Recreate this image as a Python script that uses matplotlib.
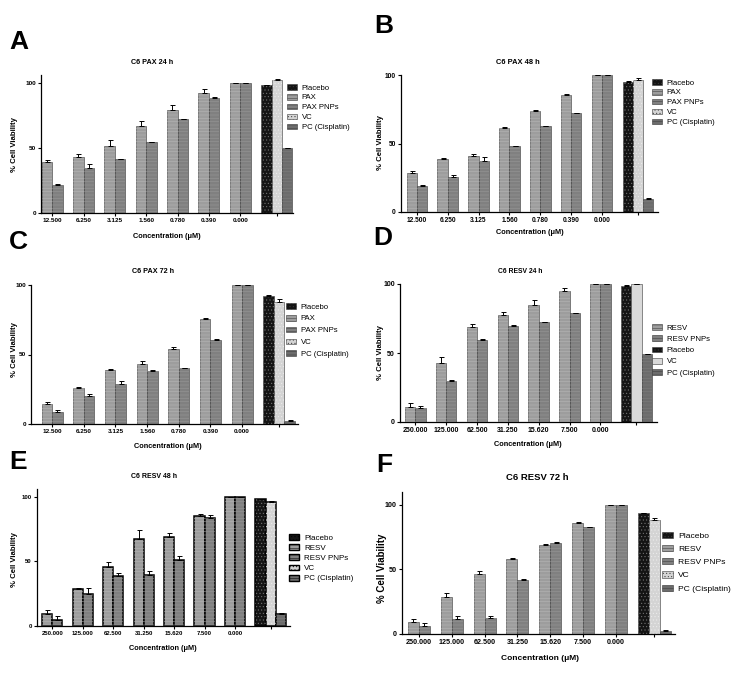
import matplotlib
matplotlib.use("Agg")
import matplotlib.pyplot as plt
from matplotlib.patches import Patch
import numpy as np

W, H = 731, 674

# ---------------- data ----------------
pax_ticks = ['12.500', '6.250', '3.125', '1.560', '0.780', '0.390', '0.000', '']
resv_ticks = ['250.000', '125.000', '62.500', '31.250', '15.620', '7.500', '0.000', '']

# Panel A: C6 PAX 24 h
a_free = [39.0, 43.0, 51.3, 67.2, 79.5, 92.3, 100]
a_free_err = [1.5, 2.4, 5.1, 3.3, 3.8, 3.1, 0]
a_pnp = [21.3, 34.6, 41.5, 54.6, 72.1, 88.8, 100]
a_pnp_err = [1.0, 3.1, 0.4, 0.4, 0.3, 0.4, 0]
a_ctrl = [98.3, 102.8, 50.0]          # Placebo, VC, PC
a_ctrl_err = [0.5, 0.4, 0.0]

# Panel B: C6 PAX 48 h
b_free = [28.5, 39.0, 41.2, 61.5, 74.0, 85.4, 100]
b_free_err = [1.5, 0.5, 0.8, 0.7, 0.5, 0.4, 0]
b_pnp = [18.8, 25.4, 37.3, 48.0, 62.7, 72.0, 100]
b_pnp_err = [1.2, 1.9, 2.7, 0.5, 0.4, 0.4, 0]
b_ctrl = [95.1, 96.6, 9.8]
b_ctrl_err = [0.3, 0.9, 0.3]

# Panel C: C6 PAX 72 h
c_free = [14.4, 26.1, 38.8, 43.2, 54.0, 75.5, 100]
c_free_err = [1.2, 0.5, 0.8, 1.9, 1.4, 0.8, 0]
c_pnp = [8.4, 20.1, 29.0, 38.4, 40.3, 60.4, 100]
c_pnp_err = [1.6, 1.5, 2.2, 0.7, 0.3, 0.6, 0]
c_ctrl = [92.3, 87.5, 2.4]
c_ctrl_err = [0.3, 2.2, 0.3]

# Panel D: C6 RESV 24 h
d_free = [11.2, 42.5, 68.7, 77.7, 85.0, 94.7, 100]
d_free_err = [2.6, 4.3, 2.2, 2.2, 3.1, 2.1, 0]
d_pnp = [10.4, 29.6, 59.5, 69.9, 72.3, 78.9, 100]
d_pnp_err = [1.0, 0.7, 0.5, 0.7, 0.5, 0.3, 0]
d_ctrl = [98.8, 100, 49.0]
d_ctrl_err = [0.3, 0.0, 0.3]

# Panel E: C6 RESV 48 h
e_free = [9.0, 28.4, 45.9, 67.8, 69.1, 85.0, 100]
e_free_err = [3.1, 0.7, 3.6, 6.4, 3.3, 2.1, 0]
e_pnp = [4.9, 24.5, 38.7, 39.9, 51.0, 83.8, 100]
e_pnp_err = [2.8, 4.6, 2.0, 2.4, 3.6, 2.0, 0]
e_ctrl = [98.5, 96.4, 9.5]
e_ctrl_err = [0.3, 0.8, 0.3]

# Panel F: C6 RESV 72 h
f_free = [9.5, 28.8, 46.3, 58.1, 68.9, 85.9, 100]
f_free_err = [2.3, 2.6, 2.8, 1.0, 0.8, 0.7, 0]
f_pnp = [6.4, 11.8, 12.6, 41.6, 70.7, 82.8, 100]
f_pnp_err = [1.8, 2.1, 1.5, 0.8, 0.8, 0.3, 0]
f_ctrl = [93.6, 87.9, 2.3]
f_ctrl_err = [0.0, 2.1, 0.8]

# ---------------- styles ----------------
NARROW = ['Liberation Sans Narrow', 'Liberation Sans', 'DejaVu Sans']
REG = ['Liberation Sans', 'DejaVu Sans']

STY = {
    'free':    dict(fc='#9d9d9d', hc='#b8b8b8', hatch='-----'),
    'pnp':     dict(fc='#808080', hc='#9a9a9a', hatch='-----'),
    'placebo': dict(fc='#141414', hc='#7a7a7a', hatch='.....'),
    'vc':      dict(fc='#d4d4d4', hc='#eeeeee', hatch='.....'),
    'vc_plain': dict(fc='#d9d9d9', hc=None, hatch=None),
    'pc':      dict(fc='#6c6c6c', hc='#808080', hatch='-----'),
}
plt.rcParams['hatch.linewidth'] = 0.35

fig = plt.figure(figsize=(W / 100, H / 100), dpi=100)


def rect(l, r, t, b):
    return [l / W, 1 - b / H, (r - l) / W, (b - t) / H]


def draw_bar(ax, x, h, key, edge='#3a3a3a', lw=0.4):
    s = STY[key]
    ax.bar(x, h, width=1.0, align='edge', color=s['fc'], edgecolor=edge, linewidth=lw, zorder=2)
    if s['hatch']:
        ax.bar(x, h, width=1.0, align='edge', color='none', edgecolor=s['hc'],
               hatch=s['hatch'], linewidth=0, zorder=2.1)


def patch(key, edge='#3a3a3a', lw=0.4):
    s = STY[key]
    return Patch(facecolor=s['fc'], edgecolor=edge, linewidth=lw, hatch=s['hatch'])


def panel(pos, xlim, ylim, free, free_err, pnp, pnp_err, ctrl, ctrl_err, ticks,
          ticksize, vc_key='vc', edge='#3a3a3a', lw=0.4):
    ax = fig.add_axes(rect(*pos))
    n = len(free)
    xs_free = np.arange(n) * 3.0
    xs_pnp = xs_free + 1
    xs_ctrl = np.array([21.0, 22.0, 23.0])
    for x, h in zip(xs_free, free):
        draw_bar(ax, x, h, 'free', edge, lw)
    for x, h in zip(xs_pnp, pnp):
        draw_bar(ax, x, h, 'pnp', edge, lw)
    for x, h, k in zip(xs_ctrl, ctrl, ['placebo', vc_key, 'pc']):
        draw_bar(ax, x, h, k, edge, lw)
    allx = np.concatenate([xs_free, xs_pnp, xs_ctrl]) + 0.5
    ally = np.concatenate([free, pnp, ctrl])
    alle = np.concatenate([free_err, pnp_err, ctrl_err])
    ax.errorbar(allx, ally, yerr=[np.zeros_like(alle), alle], fmt='none',
                ecolor='black', elinewidth=0.7, capsize=1.8, capthick=0.7, zorder=3)
    ax.set_xlim(*xlim)
    ax.set_ylim(*ylim)
    ax.set_xticks(list(np.arange(n) * 3.0 + 1) + [22.5])
    ax.set_xticklabels(ticks, fontsize=ticksize, fontweight='bold', family=NARROW)
    ax.set_yticks([0, 50, 100])
    ax.set_yticklabels(['0', '50', '100'], fontsize=ticksize, fontweight='bold', family=NARROW)
    for sp in ['top', 'right']:
        ax.spines[sp].set_visible(False)
    for sp in ['left', 'bottom']:
        ax.spines[sp].set_linewidth(0.9)
    ax.tick_params(length=2.2, width=0.8, pad=1.5)
    ax.set_facecolor('none')
    return ax


def texts(letter, lxy, title, txy, tsize, xlab_xy, lsize, ylab_xy, ysize):
    fig.text(lxy[0] / W, 1 - lxy[1] / H, letter, fontsize=19, fontweight='bold',
             family=REG, ha='left', va='top')
    fig.text(txy[0] / W, 1 - txy[1] / H, title, fontsize=tsize, fontweight='bold',
             family=NARROW, ha='center', va='center')
    fig.text(xlab_xy[0] / W, 1 - xlab_xy[1] / H, 'Concentration (μM)', fontsize=lsize,
             fontweight='bold', family=NARROW, ha='center', va='center')
    fig.text(ylab_xy[0] / W, 1 - ylab_xy[1] / H, '% Cell Viability', fontsize=ysize,
             fontweight='bold', family=REG, ha='center', va='center', rotation=90)


def legend(items, xy, size, spacing, edge='#3a3a3a', lw=0.4):
    handles = [patch(k, edge, lw) for k, _ in items]
    labels = [l for _, l in items]
    fig.legend(handles, labels, loc='upper left', bbox_to_anchor=(xy[0] / W, 1 - xy[1] / H),
               frameon=False, borderpad=0, borderaxespad=0, handlelength=1.3, handleheight=0.75,
               handletextpad=0.6, labelspacing=spacing, prop=dict(family=NARROW, size=size))


PAX_LEG = [('placebo', 'Placebo'), ('free', 'PAX'), ('pnp', 'PAX PNPs'), ('vc', 'VC'), ('pc', 'PC (Cisplatin)')]
RESV_LEG = [('placebo', 'Placebo'), ('free', 'RESV'), ('pnp', 'RESV PNPs'), ('vc', 'VC'), ('pc', 'PC (Cisplatin)')]
D_LEG = [('free', 'RESV'), ('pnp', 'RESV PNPs'), ('placebo', 'Placebo'), ('vc_plain', 'VC'), ('pc', 'PC (Cisplatin)')]

# A
panel((41, 293, 75, 213), (-0.07, 24.05), (0, 106.3), a_free, a_free_err, a_pnp, a_pnp_err,
      a_ctrl, a_ctrl_err, pax_ticks, 4.6)
texts('A', (9, 30), 'C6 PAX 24 h', (152, 62), 5.2, (167, 237), 5.3, (15, 145), 5.6)
legend(PAX_LEG, (287, 84), 5.6, 0.3)

# B
panel((401, 658, 75, 212), (-0.55, 24.45), (0, 100), b_free, b_free_err, b_pnp, b_pnp_err,
      b_ctrl, b_ctrl_err, pax_ticks, 4.8)
texts('B', (374, 14), 'C6 PAX 48 h', (518, 63), 5.4, (530, 233), 5.3, (380, 143), 5.6)
legend(PAX_LEG, (652, 79), 5.6, 0.3)

# C
panel((31, 298, 285, 424), (-1.0, 24.3), (0, 100), c_free, c_free_err, c_pnp, c_pnp_err,
      c_ctrl, c_ctrl_err, pax_ticks, 4.6)
texts('C', (9, 230), 'C6 PAX 72 h', (153, 272), 5.2, (168, 447), 5.3, (15, 350), 5.6)
legend(PAX_LEG, (286, 303), 5.6, 0.55)

# D
panel((400, 657, 284, 422), (-0.49, 24.5), (0, 100), d_free, d_free_err, d_pnp, d_pnp_err,
      d_ctrl, d_ctrl_err, resv_ticks, 5.0, vc_key='vc_plain')
texts('D', (373, 226), 'C6 RESV 24 h', (520, 272), 4.9, (528, 444), 5.3, (380, 353), 5.6)
legend(D_LEG, (652, 324), 5.6, 0.48)

# E
panel((37, 290, 489, 626), (-0.5, 24.4), (0, 106.2), e_free, e_free_err, e_pnp, e_pnp_err,
      e_ctrl, e_ctrl_err, resv_ticks, 4.3, edge='black', lw=1.1)
texts('E', (9, 450), 'C6 RESV 48 h', (154, 476), 5.0, (163, 649), 5.3, (15, 560), 5.6)
legend(RESV_LEG, (289, 534), 5.8, 0.3, edge='black', lw=1.0)

# F
panel((402, 675, 492, 634), (-0.55, 24.4), (0, 109.8), f_free, f_free_err, f_pnp, f_pnp_err,
      f_ctrl, f_ctrl_err, resv_ticks, 5.1)
texts('F', (376, 453), 'C6 RESV 72 h', (537, 477), 6.8, (540, 658), 6.0, (382, 568), 7.0)
legend(RESV_LEG, (662, 532), 6.1, 0.6)

fig.savefig('out.png', dpi=100)
